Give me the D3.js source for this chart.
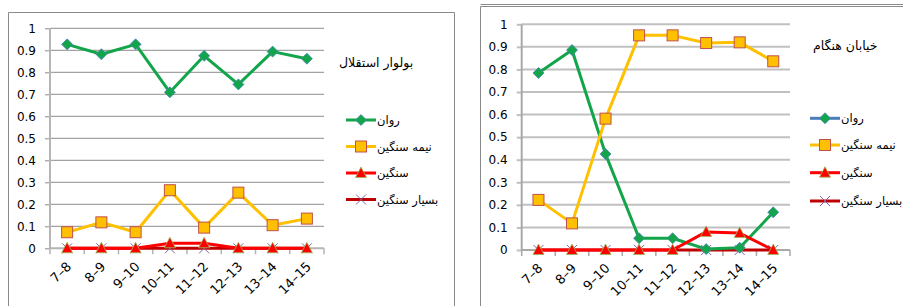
<!DOCTYPE html>
<html><head><meta charset="utf-8">
<script src="https://cdn.jsdelivr.net/npm/d3@7"></script>
<style>
html,body{margin:0;padding:0;background:#fff;}
svg{display:block;font-family:"DejaVu Sans",sans-serif;}
</style></head>
<body>
<svg id="c" width="903" height="306"></svg>
<script>
const categories = ["7–8","8–9","9–10","10–11","11–12","12–13","13–14","14–15"];
const yTicks = [0,0.1,0.2,0.3,0.4,0.5,0.6,0.7,0.8,0.9,1];
const seriesNames = ["روان","نیمه سنگین","سنگین","بسیار سنگین"];

// Chart 1: بولوار استقلال
const title1 = "بولوار استقلال";
const ravan1 = [0.927,0.882,0.927,0.709,0.875,0.745,0.894,0.862];
const nime1  = [0.073,0.118,0.073,0.264,0.094,0.253,0.105,0.135];
const sangin1= [0,0,0,0.023,0.023,0,0,0];
const besyar1= [0,0,0,0,0,0,0,0];

// Chart 2: خیابان هنگام
const title2 = "خیابان هنگام";
const ravan2 = [0.784,0.886,0.425,0.052,0.052,0.004,0.01,0.167];
const nime2  = [0.222,0.118,0.582,0.951,0.951,0.917,0.92,0.836];
const sangin2= [0,0,0,0,0,0.08,0.075,0];
const besyar2= [0,0,0,0,0,0,0,0];

const svg = d3.select("#c");

const styles = [
  {line:"#12a54a", marker:"diamond", fill:"#12a54a", stroke:"#4f81bd"},
  {line:"#ffc000", marker:"square", fill:"#ffc000", stroke:"#c0504d"},
  {line:"#ff0000", marker:"triangle", fill:"#ff0000", stroke:"#9bbb59"},
  {line:"#c00000", marker:"x", fill:"none", stroke:"#8064a2"}
];

function marker(g, type, x, y, st){
  if(type==="diamond"){
    g.append("path").attr("d",`M${x},${y-5.5}L${x+5.5},${y}L${x},${y+5.5}L${x-5.5},${y}Z`)
      .attr("fill",st.fill).attr("stroke",st.stroke).attr("stroke-width",0.8);
  } else if(type==="square"){
    g.append("rect").attr("x",x-5.5).attr("y",y-5.5).attr("width",11).attr("height",11)
      .attr("fill",st.fill).attr("stroke",st.stroke).attr("stroke-width",1);
  } else if(type==="triangle"){
    g.append("path").attr("d",`M${x},${y-6}L${x+5.5},${y+4.5}L${x-5.5},${y+4.5}Z`)
      .attr("fill",st.fill).attr("stroke",st.stroke).attr("stroke-width",0.8);
  } else {
    g.append("path").attr("d",`M${x-5},${y-5}L${x+5},${y+5}M${x-5},${y+5}L${x+5},${y-5}`)
      .attr("fill","none").attr("stroke",st.stroke).attr("stroke-width",1);
  }
}

function drawChart(cfg){
  const g = svg.append("g");
  g.append("path").attr("d",cfg.frame).attr("fill","none").attr("stroke",cfg.frameColor).attr("stroke-width",1);
  if(cfg.frame2) g.append("path").attr("d",cfg.frame2).attr("fill","none").attr("stroke",cfg.frameColor).attr("stroke-width",1);

  const x = d3.scaleBand().domain(categories).range([cfg.left,cfg.right]);
  const y = d3.scaleLinear().domain([0,1]).range([cfg.y0,cfg.y1]);

  g.append("g").selectAll("line").data(yTicks.filter(d=>d>0)).join("line")
    .attr("x1",cfg.left).attr("x2",cfg.right)
    .attr("y1",d=>y(d)).attr("y2",d=>y(d))
    .attr("stroke",cfg.gridColor).attr("stroke-width",cfg.gridWidth);

  const ya = g.append("g").attr("transform",`translate(${cfg.left},0)`)
    .call(d3.axisLeft(y).tickValues(yTicks).tickFormat(d=>d===0?"0":d===1?"1":d3.format(".1f")(d)).tickSize(5).tickPadding(9));
  ya.select(".domain").remove();
  ya.selectAll(".tick line").attr("stroke",cfg.gridColor).attr("stroke-width",cfg.gridWidth);
  ya.selectAll("text").attr("font-size",12).attr("fill","#000").attr("font-family","DejaVu Sans");
  g.append("line").attr("x1",cfg.left).attr("x2",cfg.left).attr("y1",cfg.y1).attr("y2",cfg.y0)
    .attr("stroke",cfg.axisColor).attr("stroke-width",2);

  g.append("line").attr("x1",cfg.left).attr("x2",cfg.right).attr("y1",cfg.y0).attr("y2",cfg.y0)
    .attr("stroke",cfg.axisColor).attr("stroke-width",2);
  const bounds = categories.map(c=>x(c)).concat([cfg.right]);
  g.append("g").selectAll("line").data(bounds).join("line")
    .attr("x1",d=>d).attr("x2",d=>d).attr("y1",cfg.y0).attr("y2",cfg.y0+6)
    .attr("stroke",cfg.axisColor).attr("stroke-width",1.5);
  g.append("g").selectAll("text").data(categories).join("text")
    .attr("transform",d=>`translate(${x(d)+x.bandwidth()/2+5},${cfg.y0+19}) rotate(-45)`)
    .attr("text-anchor","end").attr("font-size",13).attr("fill","#000")
    .text(d=>d);

  const cx = d=>x(d)+x.bandwidth()/2;
  const line = d3.line().x((d,i)=>cx(categories[i])).y(d=>y(d));
  const order = [3,0,1,2];
  order.forEach(si=>{
    const st = styles[si];
    g.append("path").datum(cfg.series[si]).attr("d",line)
      .attr("fill","none").attr("stroke",st.line).attr("stroke-width",3).attr("stroke-linejoin","round");
    const mg = g.append("g");
    cfg.series[si].forEach((v,i)=>marker(mg, st.marker, cx(categories[i]), y(v), st));
  });

  g.append("text").attr("x",cfg.titleX).attr("y",cfg.titleY).attr("font-size",12.5).attr("fill","#000")
    .attr("text-anchor","start").text(cfg.title);

  seriesNames.forEach((n,i)=>{
    const st = styles[i];
    const ly = cfg.legY[i];
    const lc = (i===0 && cfg.legend0Line) ? cfg.legend0Line : st.line;
    g.append("line").attr("x1",cfg.legX).attr("x2",cfg.legX+30).attr("y1",ly).attr("y2",ly)
      .attr("stroke",lc).attr("stroke-width",3);
    marker(g, st.marker, cfg.legX+15, ly, st);
    g.append("text").attr("x",cfg.legX+31).attr("y",ly+4).attr("font-size",11.5).attr("fill","#000")
      .attr("text-anchor","start").text(n);
  });
}

drawChart({
  frame:"M8.5,320V12.5H454.5V320",
  frameColor:"#8a8a8a",
  left:50,right:324,y0:248.3,y1:28.3,
  gridColor:"#8c8c8c",gridWidth:1,axisColor:"#b5b5b5",
  series:[ravan1,nime1,sangin1,besyar1],
  title:title1,titleX:339,titleY:67,
  legX:346,legY:[120,146.5,173,199.5]
});
drawChart({
  frame:"M480.5,320V6.5H910",
  frame2:"M480.5,4.5H910",
  frameColor:"#8a8a8a",
  left:521.7,right:790,y0:250,y1:24.3,
  gridColor:"#c0c0c0",gridWidth:2,axisColor:"#a8a8a8",
  series:[ravan2,nime2,sangin2,besyar2],
  title:title2,titleX:813,titleY:50,
  legX:810,legY:[118.3,145,172.7,201],
  legend0Line:"#4a7ebb"
});
</script>
</body></html>
